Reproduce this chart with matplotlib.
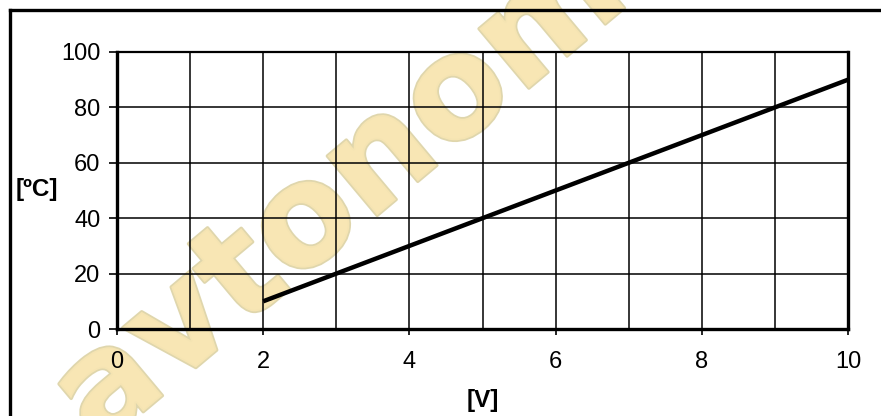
import matplotlib
matplotlib.use("Agg")
import matplotlib.pyplot as plt
import matplotlib.patheffects as pe
from matplotlib.lines import Line2D

# data
voltage = [2, 10]
temperature = [10, 90]
x_ticks = [0, 2, 4, 6, 8, 10]
x_grid = [1, 2, 3, 4, 5, 6, 7, 8, 9]
y_ticks = [0, 20, 40, 60, 80, 100]

plt.rcParams['font.family'] = ['Liberation Sans', 'DejaVu Sans']

fig = plt.figure(figsize=(8.81, 4.16), dpi=100)
ax = fig.add_axes([117 / 881, 1 - 329 / 416, (848 - 117) / 881, (329 - 52) / 416])
ax.set_facecolor('none')

# outer frame (only left and top visible)
fig.add_artist(Line2D([10 / 881, 10 / 881], [0, 1 - 10 / 416], color='black', lw=2.4,
                      solid_capstyle='projecting'))
fig.add_artist(Line2D([10 / 881, 1], [1 - 10 / 416, 1 - 10 / 416], color='black', lw=2.4,
                      solid_capstyle='projecting'))

# watermark
fig.text(340 / 881, 1 - 195 / 416, 'avtonom', fontsize=102, fontweight='bold',
         family='DejaVu Sans', rotation=40, ha='center', va='center',
         color='#f8e6b4', alpha=0.9, zorder=-5,
         path_effects=[pe.withStroke(linewidth=2.5, foreground='#dcd2a4')])

ax.plot(voltage, temperature, color='black', lw=3.2, solid_capstyle='butt', zorder=3)

ax.set_xlim(0, 10)
ax.set_ylim(0, 100)
ax.set_xticks(x_ticks)
ax.set_yticks(y_ticks)
ax.set_xticks(x_grid, minor=True)
ax.tick_params(axis='x', which='major', direction='out', length=4.5, width=1.2,
               pad=11, labelsize=17)
ax.tick_params(axis='x', which='minor', length=0)
ax.tick_params(axis='y', direction='out', length=6, width=1.2, pad=6, labelsize=17)

for x in x_grid:
    ax.axvline(x, color='black', lw=1.1, zorder=1)
for y in y_ticks[1:-1]:
    ax.axhline(y, color='black', lw=1.1, zorder=1)

for side in ['left', 'bottom', 'right']:
    ax.spines[side].set_linewidth(2.4)
ax.spines['top'].set_linewidth(1.6)

fig.text(37 / 881, 1 - 190 / 416, '[ºC]', fontsize=17.5, fontweight='bold',
         ha='center', va='center')
fig.text(483 / 881, 1 - 401 / 416, '[V]', fontsize=17.5, fontweight='bold',
         ha='center', va='center')

fig.savefig('out.png', dpi=100)
